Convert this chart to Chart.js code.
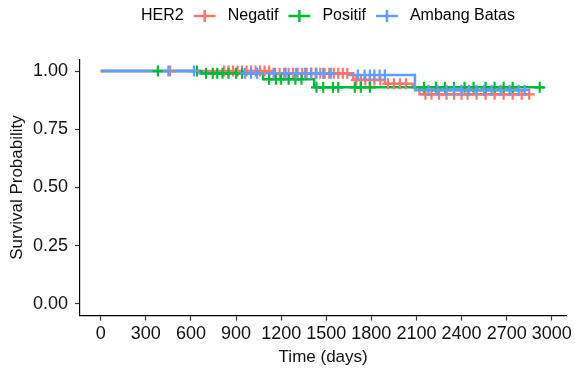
<!DOCTYPE html>
<html>
<head>
<meta charset="utf-8">
<script src="https://cdn.jsdelivr.net/npm/chart.js@4/dist/chart.umd.min.js"></script>
<style>
  html, body { margin: 0; padding: 0; background: #fff; }
  #wrap { width: 575px; height: 368px; position: relative; }
</style>
</head>
<body>
<div id="wrap"><canvas id="c"></canvas></div>
<script>
// ---- Data ----
const groupNames = ['Negatif', 'Positif', 'Ambang Batas'];
const legendTitle = 'HER2';

// Kaplan-Meier step points: time (days) and survival probability
const negTimes = [0, 1150, 1680, 1890, 2075, 2120, 2850];
const negSurv  = [1.00, 0.99, 0.962, 0.945, 0.93, 0.90, 0.90];
const posTimes = [0, 660, 1080, 1420, 2950];
const posSurv  = [1.00, 0.99, 0.965, 0.93, 0.93];
const ambTimes = [0, 660, 1650, 2090, 2820];
const ambSurv  = [1.00, 0.99, 0.983, 0.918, 0.918];

// Censoring times (days)
const negCensor = [460, 820, 850, 880, 910, 940, 970, 1000, 1030, 1060, 1090, 1120, 1160, 1190, 1220, 1250, 1280, 1310, 1340, 1370, 1400, 1430, 1460, 1490, 1520, 1550, 1580, 1610, 1640, 1700, 1730, 1760, 1790, 1820, 1860, 1910, 1950, 1990, 2030, 2160, 2200, 2250, 2300, 2350, 2400, 2440, 2500, 2560, 2620, 2680, 2740, 2800, 2850];
const posCensor = [380, 640, 700, 745, 775, 810, 850, 900, 940, 1120, 1165, 1200, 1250, 1295, 1335, 1435, 1480, 1545, 1580, 1690, 1730, 1790, 2150, 2230, 2290, 2350, 2420, 2480, 2560, 2620, 2680, 2740, 2920];
const ambCensor = [450, 620, 960, 1000, 1040, 1150, 1230, 1300, 1360, 1400, 1435, 1480, 1530, 1710, 1755, 1790, 1820, 1855, 1890, 2180, 2240, 2300, 2350, 2400, 2450, 2500, 2550, 2600, 2660, 2720, 2780, 2820];

const xTicks = [0, 300, 600, 900, 1200, 1500, 1800, 2100, 2400, 2700, 3000];
const yTicks = [0, 0.25, 0.5, 0.75, 1.0];

const colors = ['#F8766D', '#00BA38', '#619CFF'];

// ---- helpers ----
function stepPoints(times, surv) {
  return times.map((t, i) => ({ x: t, y: surv[i] }));
}
function survAt(times, surv, t) {
  let s = surv[0];
  for (let i = 0; i < times.length; i++) { if (times[i] <= t) s = surv[i]; }
  return s;
}
function censorPoints(times, surv, cens) {
  return cens.map(t => ({ x: t, y: survAt(times, surv, t) }));
}

const groups = [
  [negTimes, negSurv, negCensor],
  [posTimes, posSurv, posCensor],
  [ambTimes, ambSurv, ambCensor]
];

const datasets = [];
groups.forEach((g, i) => {
  datasets.push({
    label: groupNames[i],
    data: stepPoints(g[0], g[1]),
    borderColor: colors[i],
    backgroundColor: colors[i],
    borderWidth: 2.5,
    stepped: 'before',
    pointRadius: 0,
    fill: false,
    order: 5 - i
  });
});
groups.forEach((g, i) => {
  datasets.push({
    label: groupNames[i] + ' censor',
    data: censorPoints(g[0], g[1], g[2]),
    borderColor: colors[i],
    backgroundColor: colors[i],
    showLine: false,
    pointStyle: 'cross',
    pointRadius: 5.5,
    pointBorderWidth: 2.2,
    order: 2 - i
  });
});

const FONT = '"Liberation Sans", Arial, sans-serif';

const legendPlugin = {
  id: 'kmLegend',
  afterDraw(chart) {
    const ctx = chart.ctx;
    ctx.save();
    ctx.font = '16px ' + FONT;
    ctx.fillStyle = '#000';
    ctx.textBaseline = 'middle';
    const y = 16;
    let x = 141;
    ctx.fillText(legendTitle, x, y);
    x += ctx.measureText(legendTitle).width + 10;
    groupNames.forEach((name, i) => {
      ctx.strokeStyle = colors[i];
      ctx.lineWidth = 2.5;
      ctx.beginPath();
      ctx.moveTo(x, y); ctx.lineTo(x + 22, y);
      ctx.moveTo(x + 11, y - 6); ctx.lineTo(x + 11, y + 6);
      ctx.stroke();
      x += 34;
      ctx.fillText(name, x, y);
      x += ctx.measureText(name).width + 10;
    });
    ctx.restore();
  }
};

new Chart(document.getElementById('c'), {
  type: 'line',
  data: { datasets },
  plugins: [legendPlugin],
  options: {
    responsive: true,
    maintainAspectRatio: false,
    animation: false,
    layout: { padding: { top: 59.4, right: 4, left: 0, bottom: 0 } },
    plugins: { legend: { display: false }, tooltip: { enabled: false } },
    scales: {
      x: {
        type: 'linear',
        min: -138,
        max: 3097,
        afterBuildTicks: s => { s.ticks = xTicks.map(v => ({ value: v })); },
        afterFit: s => { s.height = 52.4; },
        grid: { display: true, drawOnChartArea: false, drawTicks: true, tickLength: 5, color: '#333', tickWidth: 1.2 },
        border: { display: true, color: '#000', width: 1.2 },
        ticks: { color: '#111', font: { family: FONT, size: 18 }, padding: 3, maxRotation: 0, autoSkip: false,
                 callback: v => String(v) },
        title: { display: true, text: 'Time (days)', color: '#111', font: { family: FONT, size: 17 }, padding: { top: 0, bottom: 0 } }
      },
      y: {
        type: 'linear',
        min: -0.05,
        max: 1.05,
        afterBuildTicks: s => { s.ticks = yTicks.map(v => ({ value: v })); },
        afterFit: s => { s.width = 80; },
        grid: { display: true, drawOnChartArea: false, drawTicks: true, tickLength: 5, color: '#333', tickWidth: 1.2 },
        border: { display: true, color: '#000', width: 1.2 },
        ticks: { color: '#111', font: { family: FONT, size: 18 }, padding: 7,
                 callback: v => Number(v).toFixed(2) },
        title: { display: true, text: 'Survival Probability', color: '#111', font: { family: FONT, size: 17 }, padding: { top: 7, bottom: 0 } }
      }
    }
  }
});
</script>
</body>
</html>
